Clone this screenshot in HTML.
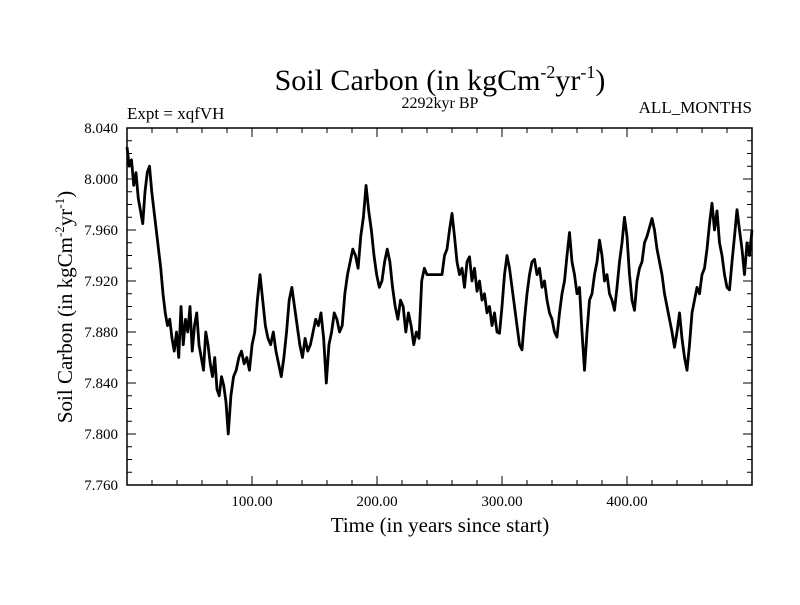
<!DOCTYPE html>
<html><head><meta charset="utf-8"><style>
body{margin:0;background:#fff}
svg text{font-family:"Liberation Serif",serif;fill:#000}
</style></head><body>
<svg id="chart" width="800" height="600">
<text x="440" y="90" font-size="30" text-anchor="middle">Soil Carbon (in kgCm<tspan font-size="18" dy="-12">-2</tspan><tspan dy="12">yr</tspan><tspan font-size="18" dy="-12">-1</tspan><tspan dy="12">)</tspan></text>
<text x="440" y="108" font-size="16" text-anchor="middle">2292kyr BP</text>
<text x="127" y="119" font-size="17">Expt = xqfVH</text>
<text x="752" y="113" font-size="17" text-anchor="end">ALL_MONTHS</text>
<text x="440" y="532" font-size="21" text-anchor="middle">Time (in years since start)</text>
<text transform="translate(72,307) rotate(-90)" font-size="21" text-anchor="middle">Soil Carbon (in kgCm<tspan font-size="13" dy="-8">-2</tspan><tspan dy="8">yr</tspan><tspan font-size="13" dy="-8">-1</tspan><tspan dy="8">)</tspan></text>
<g id="axes"></g>
<rect x="127" y="128" width="625" height="357" fill="none" stroke="#000" stroke-width="1.5"/>
</svg>
<script>
const values=[8.025,8.010,8.015,7.995,8.005,7.985,7.975,7.965,7.990,8.005,8.010,7.990,7.975,7.960,7.945,7.930,7.910,7.895,7.885,7.890,7.875,7.865,7.880,7.860,7.900,7.870,7.890,7.880,7.900,7.865,7.885,7.895,7.870,7.860,7.850,7.880,7.870,7.855,7.845,7.860,7.835,7.830,7.845,7.838,7.825,7.800,7.830,7.845,7.850,7.860,7.865,7.855,7.860,7.850,7.870,7.880,7.905,7.925,7.905,7.885,7.875,7.870,7.880,7.865,7.855,7.845,7.860,7.880,7.905,7.915,7.900,7.885,7.870,7.860,7.875,7.865,7.870,7.880,7.890,7.885,7.895,7.875,7.840,7.870,7.880,7.895,7.890,7.880,7.885,7.910,7.925,7.935,7.945,7.940,7.930,7.955,7.970,7.995,7.975,7.960,7.940,7.925,7.915,7.920,7.935,7.945,7.935,7.915,7.900,7.890,7.905,7.900,7.880,7.895,7.885,7.870,7.880,7.875,7.920,7.930,7.925,
7.925,7.940,7.945,7.960,7.973,7.955,7.935,7.925,7.930,7.915,7.935,7.939,7.920,7.930,7.912,7.920,7.905,7.910,7.895,7.900,7.885,7.895,7.880,7.879,7.900,7.925,7.940,7.930,7.915,7.900,7.885,7.870,7.866,7.890,7.910,7.925,7.935,7.937,7.925,7.930,7.915,7.920,7.905,7.895,7.890,7.880,7.876,7.895,7.910,7.920,7.940,7.958,7.935,7.925,7.910,7.915,7.880,7.850,7.880,7.905,7.910,7.925,7.935,7.952,7.940,7.920,7.925,7.910,7.905,7.897,7.915,7.935,7.950,7.970,7.955,7.925,7.905,7.897,7.920,7.930,7.935,7.950,7.955,7.962,7.969,7.960,7.945,7.935,7.925,7.910,7.900,7.890,7.880,7.868,7.880,7.895,7.875,7.860,7.850,7.870,7.895,7.905,7.915,7.910,7.925,7.930,7.945,7.965,7.981,7.960,7.975,7.950,7.940,7.925,7.915,7.913,7.935,7.955,7.976,7.960,7.945,7.925,7.950,7.940,7.960];
const years=[];
for(let i=0;i<values.length;i++){
  if(i<=45) years.push(i*1.8);
  else if(i<=120) years.push(81+(i-45)*2.12);
  else years.push(252+(i-121)*2);
}
const yTicks=[7.760,7.800,7.840,7.880,7.920,7.960,8.000,8.040];
const xTicks=[100,200,300,400];
const X0=127,X1=752,Y0=485,Y1=128,xmin=0,xmax=500,ymin=7.76,ymax=8.04;
const sx=v=>X0+(v-xmin)/(xmax-xmin)*(X1-X0);
const sy=v=>Y0-(v-ymin)/(ymax-ymin)*(Y0-Y1);
const NS="http://www.w3.org/2000/svg";
const g=document.getElementById('axes');
function mk(t,a){const e=document.createElementNS(NS,t);for(const k in a)e.setAttribute(k,a[k]);g.appendChild(e);return e;}
for(let v=0;v<=500;v+=20){const big=v%100===0,x=sx(v),l=big?9:5;
const t1=mk('line',{x1:x,x2:x,y1:Y0,y2:Y0-l,stroke:'#000'});


const t2=mk('line',{x1:x,x2:x,y1:Y1,y2:Y1+l,stroke:'#000'});

}
for(let i=0;i<=28;i++){const v=ymin+i*0.01,y=sy(v),big=i%4===0,l=big?9:5;
const t1=mk('line',{x1:X0,x2:X0+l,y1:y,y2:y,stroke:'#000'});


const t2=mk('line',{x1:X1,x2:X1-l,y1:y,y2:y,stroke:'#000'});

}
yTicks.forEach(v=>{const t=mk('text',{x:118,y:sy(v)+5,'font-size':15,'text-anchor':'end'});t.textContent=v.toFixed(3);

});
xTicks.forEach(v=>{const t=mk('text',{x:sx(v),y:506,'font-size':15,'text-anchor':'middle'});t.textContent=v.toFixed(2);

});
const p=mk('polyline',{points:years.map((yr,i)=>sx(yr)+','+sy(values[i])).join(' '),fill:'none',stroke:'#000','stroke-width':2.8,'stroke-linejoin':'round'});


</script>
</body></html>
